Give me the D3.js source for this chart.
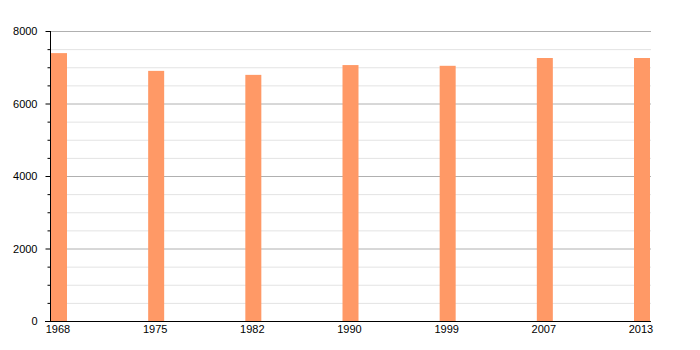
<!DOCTYPE html>
<html>
<head>
<meta charset="utf-8">
<script src="https://cdn.jsdelivr.net/npm/d3@7"></script>
<style>
  body { margin: 0; background: #fff; }
  text { font-family: "Liberation Sans", Arial, sans-serif; font-size: 11px; fill: #000; }
</style>
</head>
<body>
<script>
const years = ['1968', '1975', '1982', '1990', '1999', '2007', '2013'];
const population = [7390, 6900, 6790, 7060, 7040, 7255, 7255];
const majorTicks = [0, 2000, 4000, 6000, 8000];
const minorTicks = d3.range(0, 8001, 500);

const width = 700, height = 350;
const plotLeft = 50, plotRight = 651, plotTop = 31, plotBottom = 321;
const barWidth = 16;

const svg = d3.select('body').append('svg')
  .attr('width', width)
  .attr('height', height);

const x = d3.scalePoint().domain(years).range([plotLeft + 9, plotRight - 9]);
const y = d3.scaleLinear().domain([0, 8000]).range([plotBottom, plotTop]);

// minor grid
svg.append('g')
  .selectAll('line')
  .data(minorTicks.filter(d => d % 2000 !== 0))
  .enter()
  .append('line')
  .attr('x1', plotLeft).attr('x2', plotRight)
  .attr('y1', d => y(d) + 0.5).attr('y2', d => y(d) + 0.5)
  .attr('stroke', '#e3e3e3');

// major grid
svg.append('g')
  .selectAll('line')
  .data(majorTicks.filter(d => d > 0))
  .enter()
  .append('line')
  .attr('x1', plotLeft).attr('x2', plotRight)
  .attr('y1', d => y(d) + 0.5).attr('y2', d => y(d) + 0.5)
  .attr('stroke', '#b0b0b0');

// bars
svg.append('g')
  .selectAll('rect')
  .data(years)
  .enter()
  .append('rect')
  .attr('x', d => x(d) - barWidth / 2)
  .attr('width', barWidth)
  .attr('y', (d, i) => y(population[i]))
  .attr('height', (d, i) => plotBottom - y(population[i]))
  .attr('fill', '#ff9966');

// y axis
const yAxis = svg.append('g').attr('transform', `translate(${plotLeft + 0.5},0)`);
yAxis.call(d3.axisLeft(y).tickValues(majorTicks).tickSize(5).tickPadding(8).tickFormat(d3.format('d')))
  .call(g => g.select('.domain').remove());
yAxis.selectAll('.tick line').attr('stroke', '#000');
yAxis.selectAll('.tick text').style('font-family', '"Liberation Sans", Arial, sans-serif').style('font-size', '11px');
yAxis.append('g')
  .selectAll('line')
  .data(minorTicks.filter(d => d % 2000 !== 0))
  .enter()
  .append('line')
  .attr('x1', -3).attr('x2', 0)
  .attr('y1', d => y(d) + 0.5).attr('y2', d => y(d) + 0.5)
  .attr('stroke', '#000');
yAxis.append('line')
  .attr('x1', 0).attr('x2', 0)
  .attr('y1', plotTop).attr('y2', plotBottom)
  .attr('stroke', '#000');

// x axis
const xAxis = svg.append('g').attr('transform', `translate(0,${plotBottom + 0.5})`);
xAxis.append('line')
  .attr('x1', plotLeft - 5).attr('x2', plotRight)
  .attr('stroke', '#000');
xAxis.selectAll('text')
  .data(years)
  .enter()
  .append('text')
  .attr('x', d => x(d) - 1)
  .attr('y', 11)
  .attr('text-anchor', 'middle')
  .text(d => d);
</script>
</body>
</html>
